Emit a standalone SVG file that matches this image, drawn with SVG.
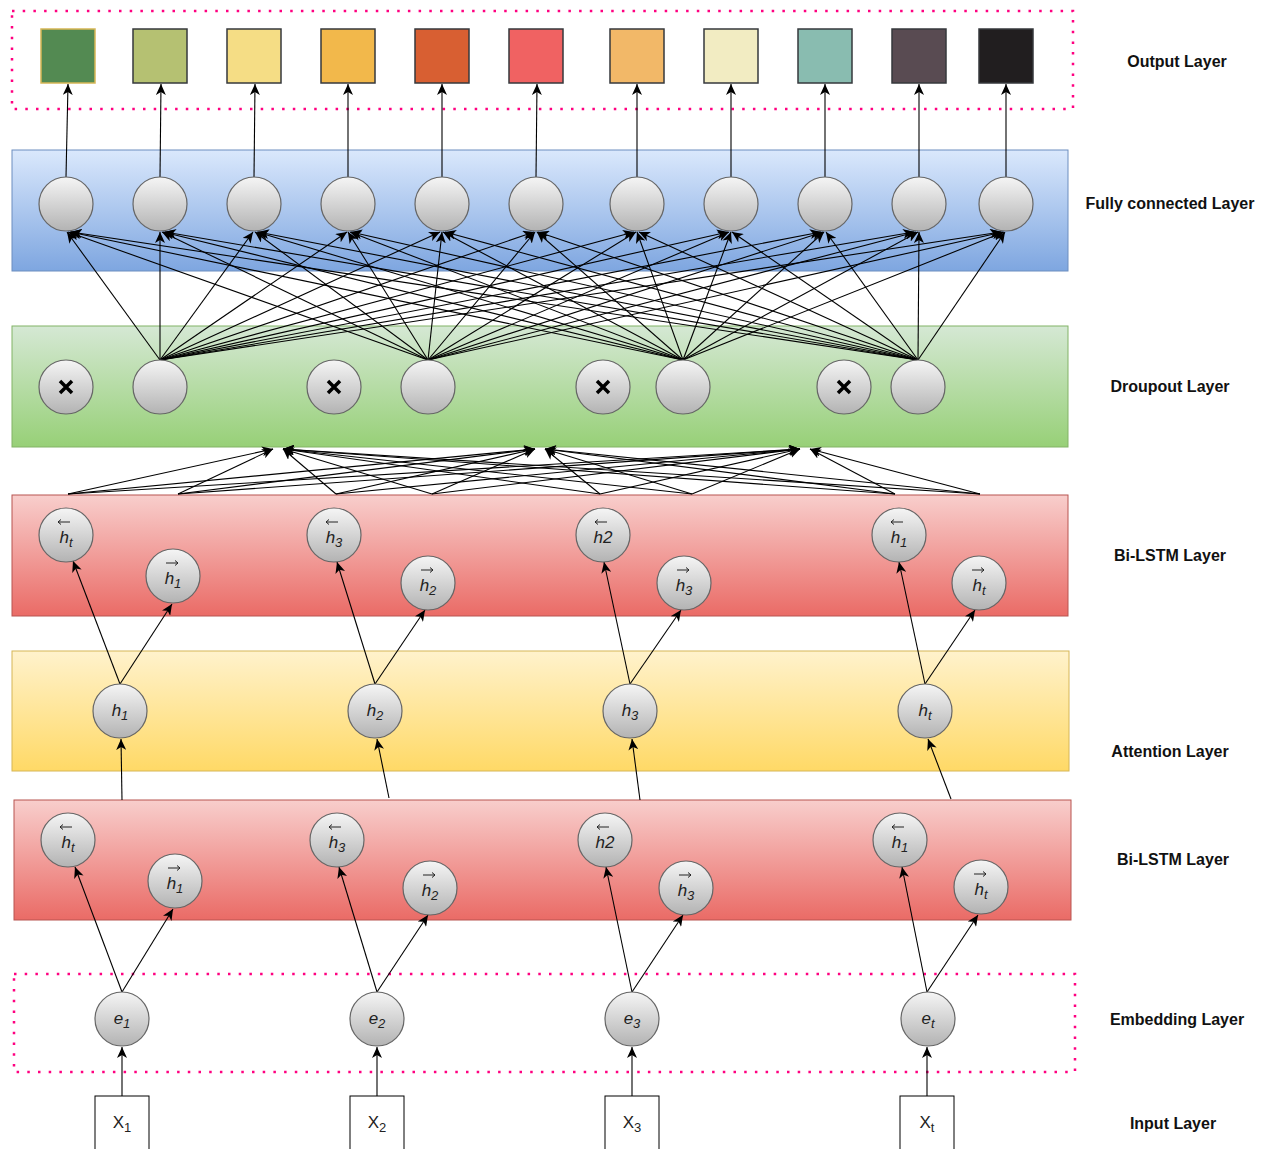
<svg xmlns="http://www.w3.org/2000/svg" xmlns:xlink="http://www.w3.org/1999/xlink" width="1263" height="1149" viewBox="0 0 1263 1149">
<defs>
<linearGradient id="gc" x1="0" y1="0" x2="0" y2="1"><stop offset="0" stop-color="#f5f5f5"/><stop offset="1" stop-color="#b3b3b3"/></linearGradient>
<linearGradient id="gb" x1="0" y1="0" x2="0" y2="1"><stop offset="0" stop-color="#dae8fc"/><stop offset="1" stop-color="#7ea6e0"/></linearGradient>
<linearGradient id="gg" x1="0" y1="0" x2="0" y2="1"><stop offset="0" stop-color="#d5e8d4"/><stop offset="1" stop-color="#97d077"/></linearGradient>
<linearGradient id="gr" x1="0" y1="0" x2="0" y2="1"><stop offset="0" stop-color="#f8cecc"/><stop offset="1" stop-color="#ea6b66"/></linearGradient>
<linearGradient id="gy" x1="0" y1="0" x2="0" y2="1"><stop offset="0" stop-color="#fff2cc"/><stop offset="1" stop-color="#ffd966"/></linearGradient>
<marker id="ah" markerUnits="userSpaceOnUse" markerWidth="12" markerHeight="10" refX="11" refY="5" orient="auto" viewBox="0 0 12 10"><path d="M0,0 L11,5 L0,10 L3,5 z" fill="#000"/></marker>
<path id="la" d="M6,0 H-6 M-3,-2.5 L-6,0 L-3,2.5" fill="none" stroke="#222" stroke-width="1"/>
<path id="ra" d="M-6,0 H6 M3,-2.5 L6,0 L3,2.5" fill="none" stroke="#222" stroke-width="1"/>
</defs>
<style>
.nd{fill:url(#gc);stroke:#666666;stroke-width:1.2}
.lbl{font-family:"Liberation Sans",Arial,sans-serif;font-style:italic;font-size:17px;fill:#222;text-anchor:middle}
.sub{font-size:13px}
.lay{font-family:"Liberation Sans",Arial,sans-serif;font-weight:bold;font-size:16px;fill:#111;text-anchor:middle}
.dot{fill:none;stroke:#ff0080;stroke-width:2.5;stroke-dasharray:2.5 8.2}
.cn line{stroke:#000;stroke-width:1.1;marker-end:url(#ah)}
.sq{stroke:#36393d;stroke-width:1.5}
.xm{stroke:#000;stroke-width:3.5;stroke-linecap:butt}
.inp{fill:#fff;stroke:#000;stroke-width:1}
.xt{font-family:"Liberation Sans",Arial,sans-serif;font-size:17px;fill:#222;text-anchor:middle}
</style>
<rect width="1263" height="1149" fill="#fff"/>

<!-- layer containers -->
<g id="output-layer-box"><rect class="dot" x="12" y="11" width="1061" height="98"/></g>
<g id="fc-band"><rect x="12" y="150" width="1056" height="121" fill="url(#gb)" stroke="#6c8ebf"/></g>
<g id="dropout-band"><rect x="12" y="326" width="1056" height="121" fill="url(#gg)" stroke="#82b366"/></g>
<g id="bilstm-top-band"><rect x="12" y="495" width="1056" height="121" fill="url(#gr)" stroke="#b85450"/></g>
<g id="attention-band"><rect x="12" y="651" width="1057" height="120" fill="url(#gy)" stroke="#d6b656"/></g>
<g id="bilstm-bottom-band"><rect x="14" y="800" width="1057" height="120" fill="url(#gr)" stroke="#b85450"/></g>
<g id="embedding-layer-box"><rect class="dot" x="14" y="974" width="1061" height="98"/></g>

<g id="connectors" class="cn">
<!-- FC to output -->
<line x1="66" y1="177" x2="68" y2="84"/>
<line x1="160" y1="177" x2="161" y2="84"/>
<line x1="254" y1="177" x2="255" y2="84"/>
<line x1="348" y1="177" x2="348" y2="84"/>
<line x1="442" y1="177" x2="442" y2="84"/>
<line x1="536" y1="177" x2="537" y2="84"/>
<line x1="637" y1="177" x2="637" y2="84"/>
<line x1="731" y1="177" x2="731" y2="84"/>
<line x1="825" y1="177" x2="825" y2="84"/>
<line x1="919" y1="177" x2="919" y2="84"/>
<line x1="1006" y1="177" x2="1006" y2="84"/>
<!-- dropout to FC -->
<line x1="160" y1="360" x2="67" y2="232"/>
<line x1="160" y1="360" x2="160" y2="232"/>
<line x1="160" y1="360" x2="253" y2="232"/>
<line x1="160" y1="360" x2="347" y2="232"/>
<line x1="160" y1="360" x2="440" y2="232"/>
<line x1="160" y1="360" x2="534" y2="232"/>
<line x1="160" y1="360" x2="634" y2="232"/>
<line x1="160" y1="360" x2="728" y2="232"/>
<line x1="160" y1="360" x2="821" y2="232"/>
<line x1="160" y1="360" x2="914" y2="232"/>
<line x1="160" y1="360" x2="1001" y2="232"/>
<line x1="428" y1="360" x2="68" y2="232"/>
<line x1="428" y1="360" x2="162" y2="232"/>
<line x1="428" y1="360" x2="255" y2="232"/>
<line x1="428" y1="360" x2="348" y2="232"/>
<line x1="428" y1="360" x2="442" y2="232"/>
<line x1="428" y1="360" x2="535" y2="232"/>
<line x1="428" y1="360" x2="636" y2="232"/>
<line x1="428" y1="360" x2="729" y2="232"/>
<line x1="428" y1="360" x2="823" y2="232"/>
<line x1="428" y1="360" x2="916" y2="232"/>
<line x1="428" y1="360" x2="1003" y2="232"/>
<line x1="683" y1="360" x2="70" y2="232"/>
<line x1="683" y1="360" x2="163" y2="232"/>
<line x1="683" y1="360" x2="257" y2="232"/>
<line x1="683" y1="360" x2="350" y2="232"/>
<line x1="683" y1="360" x2="443" y2="232"/>
<line x1="683" y1="360" x2="537" y2="232"/>
<line x1="683" y1="360" x2="637" y2="232"/>
<line x1="683" y1="360" x2="731" y2="232"/>
<line x1="683" y1="360" x2="824" y2="232"/>
<line x1="683" y1="360" x2="918" y2="232"/>
<line x1="683" y1="360" x2="1004" y2="232"/>
<line x1="918" y1="360" x2="71" y2="232"/>
<line x1="918" y1="360" x2="165" y2="232"/>
<line x1="918" y1="360" x2="258" y2="232"/>
<line x1="918" y1="360" x2="351" y2="232"/>
<line x1="918" y1="360" x2="445" y2="232"/>
<line x1="918" y1="360" x2="538" y2="232"/>
<line x1="918" y1="360" x2="639" y2="232"/>
<line x1="918" y1="360" x2="732" y2="232"/>
<line x1="918" y1="360" x2="826" y2="232"/>
<line x1="918" y1="360" x2="919" y2="232"/>
<line x1="918" y1="360" x2="1005" y2="232"/>
<!-- Bi-LSTM to dropout -->
<line x1="68" y1="494" x2="273" y2="449"/>
<line x1="68" y1="494" x2="535" y2="449"/>
<line x1="68" y1="494" x2="800" y2="449"/>
<line x1="178" y1="494" x2="273" y2="449"/>
<line x1="178" y1="494" x2="535" y2="449"/>
<line x1="178" y1="494" x2="800" y2="449"/>
<line x1="336" y1="494" x2="283" y2="449"/>
<line x1="336" y1="494" x2="535" y2="449"/>
<line x1="336" y1="494" x2="800" y2="449"/>
<line x1="432" y1="494" x2="283" y2="449"/>
<line x1="432" y1="494" x2="535" y2="449"/>
<line x1="432" y1="494" x2="800" y2="449"/>
<line x1="600" y1="494" x2="283" y2="449"/>
<line x1="600" y1="494" x2="545" y2="449"/>
<line x1="600" y1="494" x2="800" y2="449"/>
<line x1="692" y1="494" x2="283" y2="449"/>
<line x1="692" y1="494" x2="545" y2="449"/>
<line x1="692" y1="494" x2="800" y2="449"/>
<line x1="895" y1="494" x2="283" y2="449"/>
<line x1="895" y1="494" x2="545" y2="449"/>
<line x1="895" y1="494" x2="810" y2="449"/>
<line x1="980" y1="494" x2="283" y2="449"/>
<line x1="980" y1="494" x2="545" y2="449"/>
<line x1="980" y1="494" x2="810" y2="449"/>
<!-- attention to top Bi-LSTM -->
<line x1="120" y1="684" x2="73" y2="561"/>
<line x1="120" y1="684" x2="172" y2="604"/>
<line x1="375" y1="684" x2="337" y2="562"/>
<line x1="375" y1="684" x2="425" y2="610"/>
<line x1="630" y1="684" x2="604" y2="562"/>
<line x1="630" y1="684" x2="681" y2="610"/>
<line x1="925" y1="684" x2="899" y2="562"/>
<line x1="925" y1="684" x2="975" y2="610"/>
<!-- bottom Bi-LSTM to attention -->
<line x1="122" y1="800" x2="121" y2="739"/>
<line x1="389" y1="798" x2="377" y2="739"/>
<line x1="640" y1="800" x2="632" y2="739"/>
<line x1="951" y1="799" x2="928" y2="739"/>
<!-- embedding to bottom Bi-LSTM -->
<line x1="122" y1="992" x2="75" y2="867"/>
<line x1="122" y1="992" x2="173" y2="909"/>
<line x1="377" y1="992" x2="339" y2="867"/>
<line x1="377" y1="992" x2="428" y2="915"/>
<line x1="632" y1="992" x2="606" y2="867"/>
<line x1="632" y1="992" x2="683" y2="915"/>
<line x1="927" y1="992" x2="902" y2="867"/>
<line x1="927" y1="992" x2="978" y2="915"/>
<!-- input to embedding -->
<line x1="122" y1="1096" x2="122" y2="1047"/>
<line x1="377" y1="1096" x2="377" y2="1047"/>
<line x1="632" y1="1096" x2="632" y2="1047"/>
<line x1="927" y1="1096" x2="927" y2="1047"/>
</g>

<!-- output squares -->
<g id="out-1"><rect x="41" y="29" width="54" height="54" fill="#538a52" stroke="#d6b656" stroke-width="1.5"/></g>
<g id="out-2"><rect class="sq" x="133" y="29" width="54" height="54" fill="#b5c172"/></g>
<g id="out-3"><rect class="sq" x="227" y="29" width="54" height="54" fill="#f5dd85"/></g>
<g id="out-4"><rect class="sq" x="321" y="29" width="54" height="54" fill="#f2b84b"/></g>
<g id="out-5"><rect class="sq" x="415" y="29" width="54" height="54" fill="#d85f32"/></g>
<g id="out-6"><rect class="sq" x="509" y="29" width="54" height="54" fill="#f06262"/></g>
<g id="out-7"><rect class="sq" x="610" y="29" width="54" height="54" fill="#f2b868"/></g>
<g id="out-8"><rect class="sq" x="704" y="29" width="54" height="54" fill="#f2ecc2"/></g>
<g id="out-9"><rect class="sq" x="798" y="29" width="54" height="54" fill="#89bcb0"/></g>
<g id="out-10"><rect class="sq" x="892" y="29" width="54" height="54" fill="#594b52"/></g>
<g id="out-11"><rect class="sq" x="979" y="29" width="54" height="54" fill="#211e1f"/></g>

<!-- FC nodes -->
<g id="fc-1"><circle class="nd" cx="66" cy="204" r="27"/></g>
<g id="fc-2"><circle class="nd" cx="160" cy="204" r="27"/></g>
<g id="fc-3"><circle class="nd" cx="254" cy="204" r="27"/></g>
<g id="fc-4"><circle class="nd" cx="348" cy="204" r="27"/></g>
<g id="fc-5"><circle class="nd" cx="442" cy="204" r="27"/></g>
<g id="fc-6"><circle class="nd" cx="536" cy="204" r="27"/></g>
<g id="fc-7"><circle class="nd" cx="637" cy="204" r="27"/></g>
<g id="fc-8"><circle class="nd" cx="731" cy="204" r="27"/></g>
<g id="fc-9"><circle class="nd" cx="825" cy="204" r="27"/></g>
<g id="fc-10"><circle class="nd" cx="919" cy="204" r="27"/></g>
<g id="fc-11"><circle class="nd" cx="1006" cy="204" r="27"/></g>

<!-- dropout nodes -->
<g id="drop-x1"><circle class="nd" cx="66" cy="387" r="27"/><path class="xm" d="M60,381 L72,393 M72,381 L60,393"/></g>
<g id="drop-1"><circle class="nd" cx="160" cy="387" r="27"/></g>
<g id="drop-x2"><circle class="nd" cx="334" cy="387" r="27"/><path class="xm" d="M328,381 L340,393 M340,381 L328,393"/></g>
<g id="drop-2"><circle class="nd" cx="428" cy="387" r="27"/></g>
<g id="drop-x3"><circle class="nd" cx="603" cy="387" r="27"/><path class="xm" d="M597,381 L609,393 M609,381 L597,393"/></g>
<g id="drop-3"><circle class="nd" cx="683" cy="387" r="27"/></g>
<g id="drop-x4"><circle class="nd" cx="844" cy="387" r="27"/><path class="xm" d="M838,381 L850,393 M850,381 L838,393"/></g>
<g id="drop-4"><circle class="nd" cx="918" cy="387" r="27"/></g>

<!-- top Bi-LSTM nodes -->
<g id="tb-1"><circle class="nd" cx="66" cy="535" r="27"/><use xlink:href="#la" href="#la" x="64" y="522"/><text class="lbl" x="66" y="543">h<tspan class="sub" dy="4">t</tspan></text></g>
<g id="tb-2"><circle class="nd" cx="173" cy="576" r="27"/><use xlink:href="#ra" href="#ra" x="172" y="563"/><text class="lbl" x="173" y="584">h<tspan class="sub" dy="4">1</tspan></text></g>
<g id="tb-3"><circle class="nd" cx="334" cy="535" r="27"/><use xlink:href="#la" href="#la" x="332" y="522"/><text class="lbl" x="334" y="543">h<tspan class="sub" dy="4">3</tspan></text></g>
<g id="tb-4"><circle class="nd" cx="428" cy="583" r="27"/><use xlink:href="#ra" href="#ra" x="427" y="570"/><text class="lbl" x="428" y="591">h<tspan class="sub" dy="4">2</tspan></text></g>
<g id="tb-5"><circle class="nd" cx="603" cy="535" r="27"/><use xlink:href="#la" href="#la" x="601" y="522"/><text class="lbl" x="603" y="543">h2</text></g>
<g id="tb-6"><circle class="nd" cx="684" cy="583" r="27"/><use xlink:href="#ra" href="#ra" x="683" y="570"/><text class="lbl" x="684" y="591">h<tspan class="sub" dy="4">3</tspan></text></g>
<g id="tb-7"><circle class="nd" cx="899" cy="535" r="27"/><use xlink:href="#la" href="#la" x="897" y="522"/><text class="lbl" x="899" y="543">h<tspan class="sub" dy="4">1</tspan></text></g>
<g id="tb-8"><circle class="nd" cx="979" cy="583" r="27"/><use xlink:href="#ra" href="#ra" x="978" y="570"/><text class="lbl" x="979" y="591">h<tspan class="sub" dy="4">t</tspan></text></g>

<!-- attention nodes -->
<g id="att-1"><circle class="nd" cx="120" cy="711" r="27"/><text class="lbl" x="120" y="716">h<tspan class="sub" dy="4">1</tspan></text></g>
<g id="att-2"><circle class="nd" cx="375" cy="711" r="27"/><text class="lbl" x="375" y="716">h<tspan class="sub" dy="4">2</tspan></text></g>
<g id="att-3"><circle class="nd" cx="630" cy="711" r="27"/><text class="lbl" x="630" y="716">h<tspan class="sub" dy="4">3</tspan></text></g>
<g id="att-4"><circle class="nd" cx="925" cy="711" r="27"/><text class="lbl" x="925" y="716">h<tspan class="sub" dy="4">t</tspan></text></g>

<!-- bottom Bi-LSTM nodes -->
<g id="bb-1"><circle class="nd" cx="68" cy="840" r="27"/><use xlink:href="#la" href="#la" x="66" y="827"/><text class="lbl" x="68" y="848">h<tspan class="sub" dy="4">t</tspan></text></g>
<g id="bb-2"><circle class="nd" cx="175" cy="881" r="27"/><use xlink:href="#ra" href="#ra" x="174" y="868"/><text class="lbl" x="175" y="889">h<tspan class="sub" dy="4">1</tspan></text></g>
<g id="bb-3"><circle class="nd" cx="337" cy="840" r="27"/><use xlink:href="#la" href="#la" x="335" y="827"/><text class="lbl" x="337" y="848">h<tspan class="sub" dy="4">3</tspan></text></g>
<g id="bb-4"><circle class="nd" cx="430" cy="888" r="27"/><use xlink:href="#ra" href="#ra" x="429" y="875"/><text class="lbl" x="430" y="896">h<tspan class="sub" dy="4">2</tspan></text></g>
<g id="bb-5"><circle class="nd" cx="605" cy="840" r="27"/><use xlink:href="#la" href="#la" x="603" y="827"/><text class="lbl" x="605" y="848">h2</text></g>
<g id="bb-6"><circle class="nd" cx="686" cy="888" r="27"/><use xlink:href="#ra" href="#ra" x="685" y="875"/><text class="lbl" x="686" y="896">h<tspan class="sub" dy="4">3</tspan></text></g>
<g id="bb-7"><circle class="nd" cx="900" cy="840" r="27"/><use xlink:href="#la" href="#la" x="898" y="827"/><text class="lbl" x="900" y="848">h<tspan class="sub" dy="4">1</tspan></text></g>
<g id="bb-8"><circle class="nd" cx="981" cy="887" r="27"/><use xlink:href="#ra" href="#ra" x="980" y="874"/><text class="lbl" x="981" y="895">h<tspan class="sub" dy="4">t</tspan></text></g>

<!-- embedding nodes -->
<g id="emb-1"><circle class="nd" cx="122" cy="1019" r="27"/><text class="lbl" x="122" y="1024">e<tspan class="sub" dy="4">1</tspan></text></g>
<g id="emb-2"><circle class="nd" cx="377" cy="1019" r="27"/><text class="lbl" x="377" y="1024">e<tspan class="sub" dy="4">2</tspan></text></g>
<g id="emb-3"><circle class="nd" cx="632" cy="1019" r="27"/><text class="lbl" x="632" y="1024">e<tspan class="sub" dy="4">3</tspan></text></g>
<g id="emb-4"><circle class="nd" cx="928" cy="1019" r="27"/><text class="lbl" x="928" y="1024">e<tspan class="sub" dy="4">t</tspan></text></g>

<!-- input nodes -->
<g id="in-1"><rect class="inp" x="95" y="1096" width="54" height="60"/><text class="xt" x="122" y="1128">X<tspan class="sub" dy="4">1</tspan></text></g>
<g id="in-2"><rect class="inp" x="350" y="1096" width="54" height="60"/><text class="xt" x="377" y="1128">X<tspan class="sub" dy="4">2</tspan></text></g>
<g id="in-3"><rect class="inp" x="605" y="1096" width="54" height="60"/><text class="xt" x="632" y="1128">X<tspan class="sub" dy="4">3</tspan></text></g>
<g id="in-4"><rect class="inp" x="900" y="1096" width="54" height="60"/><text class="xt" x="927" y="1128">X<tspan class="sub" dy="4">t</tspan></text></g>

<!-- layer labels -->
<g id="labels">
<text class="lay" x="1177" y="67">Output Layer</text>
<text class="lay" x="1170" y="209">Fully connected Layer</text>
<text class="lay" x="1170" y="392">Droupout Layer</text>
<text class="lay" x="1170" y="561">Bi-LSTM Layer</text>
<text class="lay" x="1170" y="757">Attention Layer</text>
<text class="lay" x="1173" y="865">Bi-LSTM Layer</text>
<text class="lay" x="1177" y="1025">Embedding Layer</text>
<text class="lay" x="1173" y="1129">Input Layer</text>
</g>
</svg>
